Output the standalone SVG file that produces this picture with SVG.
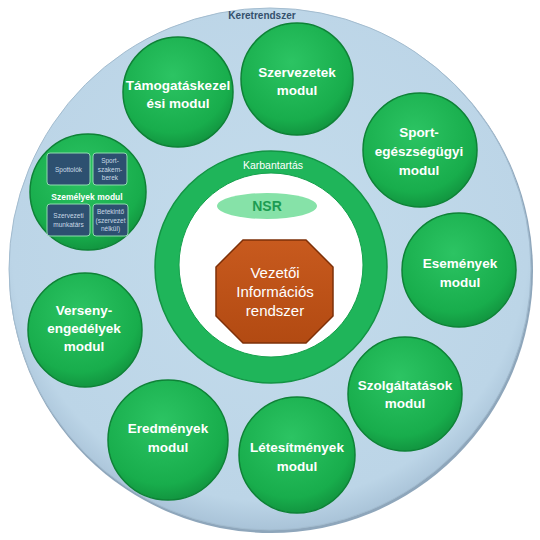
<svg xmlns="http://www.w3.org/2000/svg" width="540" height="540" viewBox="0 0 540 540">
<defs>
<radialGradient id="gBig" cx="50%" cy="45%" r="55%">
<stop offset="0" stop-color="#c4dcec"/>
<stop offset="0.9" stop-color="#bcd5e7"/>
<stop offset="1" stop-color="#a9c3d8"/>
</radialGradient>
<radialGradient id="gMod" cx="45%" cy="35%" r="65%">
<stop offset="0" stop-color="#2cc463"/>
<stop offset="0.8" stop-color="#18ad4c"/>
<stop offset="1" stop-color="#129640"/>
</radialGradient>
<linearGradient id="gOct" x1="0" y1="0" x2="0" y2="1">
<stop offset="0" stop-color="#c85a1e"/>
<stop offset="1" stop-color="#b24a12"/>
</linearGradient>
<style>
.mod{fill:url(#gMod);stroke:#0e8236;stroke-width:1.5}
.mt{font-family:"Liberation Sans",Arial,sans-serif;font-weight:bold;font-size:13.5px;fill:#ffffff;text-anchor:middle}
.box{fill:#2d5070;stroke:#8fdcae;stroke-width:1}
.bt{font-family:"Liberation Sans",Arial,sans-serif;font-size:6.5px;fill:#c9d9e6;text-anchor:middle}
</style>
</defs>
<g id="keretrendszer">
<circle cx="271" cy="271" r="262" fill="#8ea6bb"/>
<circle cx="270" cy="269" r="261" fill="url(#gBig)" stroke="#a3bccf" stroke-width="1"/>
<text x="262" y="19" font-family="Liberation Sans,Arial,sans-serif" font-weight="bold" font-size="10" fill="#34506c" text-anchor="middle">Keretrendszer</text>
</g>
<g id="karbantartas">
<circle cx="271" cy="267" r="116" fill="#1fb55a" stroke="#139444" stroke-width="1.5"/>
<circle cx="271" cy="265" r="92" fill="#ffffff" stroke="#15a04c" stroke-width="1"/>
<text x="273" y="169" font-family="Liberation Sans,Arial,sans-serif" font-size="10.5" fill="#ffffff" text-anchor="middle">Karbantartás</text>
</g>
<g id="nsr">
<ellipse cx="267" cy="206" rx="50" ry="13" fill="#86e2a8"/>
<text x="267" y="211" font-family="Liberation Sans,Arial,sans-serif" font-weight="bold" font-size="14" fill="#1c9c52" text-anchor="middle">NSR</text>
</g>
<g id="vir">
<polygon points="243,240 306,240 333,267 333,316 306,343 243,343 216,316 216,267" fill="url(#gOct)" stroke="#7e3008" stroke-width="1.5"/>
<text x="275" y="278" font-family="Liberation Sans,Arial,sans-serif" font-size="15" fill="#ffffff" text-anchor="middle">Vezetői</text>
<text x="275" y="297" font-family="Liberation Sans,Arial,sans-serif" font-size="15" fill="#ffffff" text-anchor="middle">Információs</text>
<text x="275" y="316" font-family="Liberation Sans,Arial,sans-serif" font-size="15" fill="#ffffff" text-anchor="middle">rendszer</text>
</g>
<g id="tamogatas">
<circle class="mod" cx="178" cy="92" r="55"/>
<text class="mt" x="178" y="90">Támogatáskezel</text>
<text class="mt" x="178" y="108">ési modul</text>
</g>
<g id="szervezetek">
<circle class="mod" cx="297" cy="79" r="56"/>
<text class="mt" x="297" y="77">Szervezetek</text>
<text class="mt" x="297" y="95">modul</text>
</g>
<g id="sport">
<circle class="mod" cx="420" cy="150" r="57"/>
<text class="mt" x="419" y="137">Sport-</text>
<text class="mt" x="419" y="156">egészségügyi</text>
<text class="mt" x="419" y="175">modul</text>
</g>
<g id="esemenyek">
<circle class="mod" cx="459" cy="270" r="57"/>
<text class="mt" x="460" y="268">Események</text>
<text class="mt" x="460" y="287">modul</text>
</g>
<g id="szolgaltatasok">
<circle class="mod" cx="405" cy="394" r="57"/>
<text class="mt" x="405" y="390">Szolgáltatások</text>
<text class="mt" x="405" y="408">modul</text>
</g>
<g id="letesitmenyek">
<circle class="mod" cx="297" cy="455" r="58"/>
<text class="mt" x="297" y="452">Létesítmények</text>
<text class="mt" x="297" y="471">modul</text>
</g>
<g id="eredmenyek">
<circle class="mod" cx="168" cy="440" r="60"/>
<text class="mt" x="168" y="433">Eredmények</text>
<text class="mt" x="168" y="452">modul</text>
</g>
<g id="verseny">
<circle class="mod" cx="85" cy="330" r="57"/>
<text class="mt" x="84" y="315">Verseny-</text>
<text class="mt" x="84" y="333">engedélyek</text>
<text class="mt" x="84" y="351">modul</text>
</g>
<g id="szemelyek">
<circle class="mod" cx="88" cy="192" r="58"/>
<rect class="box" x="47" y="153" width="43" height="32" rx="3"/>
<rect class="box" x="93" y="153" width="34" height="32" rx="3"/>
<rect class="box" x="47" y="204" width="43" height="32" rx="3"/>
<rect class="box" x="93" y="204" width="35" height="32" rx="3"/>
<text class="bt" x="68.5" y="171.5">Spottolók</text>
<text class="bt" x="110" y="163">Sport-</text>
<text class="bt" x="110" y="171.5">szakem-</text>
<text class="bt" x="110" y="180">berek</text>
<text x="87" y="199.5" font-family="Liberation Sans,Arial,sans-serif" font-weight="bold" font-size="8.5" fill="#ffffff" text-anchor="middle">Személyek modul</text>
<text class="bt" x="68.5" y="218">Szervezeti</text>
<text class="bt" x="68.5" y="227">munkatárs</text>
<text class="bt" x="110.5" y="214">Betekintő</text>
<text class="bt" x="110.5" y="222.5">(szervezet</text>
<text class="bt" x="110.5" y="231">nélkül)</text>
</g>
<g id="connectors"/>
</svg>
